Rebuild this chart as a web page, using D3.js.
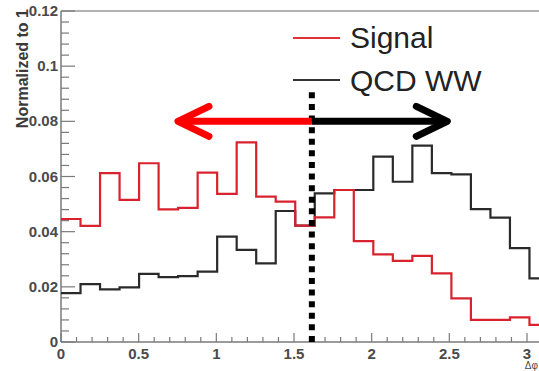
<!DOCTYPE html>
<html><head><meta charset="utf-8">
<script src="https://cdn.jsdelivr.net/npm/d3@7"></script>
<style>body{margin:0;background:#fff}svg{display:block}</style>
</head><body>
<svg id="c" width="539" height="371"></svg>
<script>
// ---- data ----
const xMax = 3.1416;           // histogram range 0..pi
const nBins = 25;
const signal = [0.0446,0.0421,0.0612,0.0515,0.0648,0.0481,0.0486,0.0614,0.0537,0.0724,0.0527,0.0509,0.0422,
                0.0452,0.0551,0.0366,0.0318,0.0294,0.0312,0.0249,0.0158,0.0080,0.0080,0.0089,0.0062];
const qcdWW  = [0.0177,0.0210,0.0191,0.0198,0.0247,0.0235,0.0239,0.0255,0.0382,0.0334,0.0285,0.0475,0.0422,
                0.0539,0.0551,0.0551,0.0672,0.0581,0.0712,0.0612,0.0608,0.0482,0.0451,0.0340,0.0231];
const seriesNames = ["Signal","QCD WW"];
const xTickLabels = [0,0.5,1,1.5,2,2.5,3];
const yTickLabels = [0,0.02,0.04,0.06,0.08,0.1,0.12];
const cutValue = 1.615, arrowLevel = 0.08, leftTip = 0.753, rightTip = 2.487, cutTop = 0.0905;

// ---- layout ----
const svg = d3.select("#c");
const x = d3.scaleLinear().domain([0, xMax]).range([61, 61 + xMax*155.33]);
const y = d3.scaleLinear().domain([0, 0.12]).range([342, 11]);
const axisCol = "#7a7a7a", labCol = "#4a4a4a";
const font = "Liberation Sans, Arial, sans-serif";

// frame top line
svg.append("line").attr("x1",61).attr("x2",539).attr("y1",11).attr("y2",11)
  .attr("stroke","#999").attr("stroke-width",1.5);

// y axis
const gy = svg.append("g").attr("transform","translate(61,0)");
const yMinor = d3.range(0, 0.1201, 0.004);
gy.selectAll("line.mn").data(yMinor).join("line")
  .attr("x1",0).attr("x2",d => (Math.abs(d/0.02 - Math.round(d/0.02))<1e-6) ? 14 : 8)
  .attr("y1",d=>y(d)).attr("y2",d=>y(d)).attr("stroke",axisCol).attr("stroke-width",1.2);
gy.append("line").attr("x1",0).attr("x2",0).attr("y1",y(0)).attr("y2",y(0.12)).attr("stroke",axisCol).attr("stroke-width",1.5);
gy.selectAll("text").data(yTickLabels).join("text")
  .attr("x",-3).attr("y",d=>y(d)+5).attr("text-anchor","end")
  .attr("font-family",font).attr("font-weight","bold").attr("font-size",15).attr("fill",labCol)
  .text(d=>d3.format("~g")(d));

// x axis
const gx = svg.append("g").attr("transform","translate(0,342)");
const xMinor = d3.range(0, xMax, 0.1);
gx.selectAll("line.mn").data(xMinor).join("line")
  .attr("x1",d=>x(d)).attr("x2",d=>x(d))
  .attr("y1",0).attr("y2",d => (Math.abs(d/0.5 - Math.round(d/0.5))<1e-6) ? -9 : -5)
  .attr("stroke",axisCol).attr("stroke-width",1.2);
gx.append("line").attr("x1",x(0)).attr("x2",539).attr("y1",0).attr("y2",0).attr("stroke",axisCol).attr("stroke-width",1.5);
gx.selectAll("text").data(xTickLabels).join("text")
  .attr("x",d=>x(d)).attr("y",17).attr("text-anchor","middle")
  .attr("font-family",font).attr("font-weight","bold").attr("font-size",15).attr("fill",labCol)
  .text(d=>d3.format("~g")(d));
svg.append("text").attr("x",538).attr("y",369).attr("text-anchor","end").attr("font-family",font).attr("font-size",10)
  .attr("fill",labCol).text("Δφ");

// y title
svg.append("text").attr("transform","translate(28,9) rotate(-90)").attr("text-anchor","end")
  .attr("font-family",font).attr("font-weight","bold").attr("font-size",16).attr("fill","#3a3a3a")
  .text("Normalized to 1");

// histograms
const edges = d3.range(nBins+1).map(i => i*xMax/nBins);
const line = d3.line().x(d=>x(d[0])).y(d=>y(d[1])).curve(d3.curveStepAfter);
function histPts(vals){ const p = vals.map((v,i)=>[edges[i],v]); p.push([edges[nBins], vals[nBins-1]]); return p; }
svg.append("path").attr("d", line(histPts(qcdWW))).attr("fill","none").attr("stroke","#2a2a2a").attr("stroke-width",2.2);
svg.append("path").attr("d", line(histPts(signal))).attr("fill","none").attr("stroke","#d8232e").attr("stroke-width",2.2);

// legend
const leg = [{n:seriesNames[0],c:"#e0303a",y:38,ty:48},{n:seriesNames[1],c:"#333",y:80,ty:91}];
leg.forEach(l=>{
  svg.append("line").attr("x1",293).attr("x2",340).attr("y1",l.y).attr("y2",l.y).attr("stroke",l.c).attr("stroke-width",2);
  svg.append("text").attr("x",350).attr("y",l.ty).attr("font-family",font).attr("font-size",30).attr("fill","#222").text(l.n);
});

// cut line
svg.append("line").attr("x1",x(cutValue)).attr("x2",x(cutValue)).attr("y1",y(cutTop)).attr("y2",y(-0.0018))
  .attr("stroke","#000").attr("stroke-width",6).attr("stroke-dasharray","6,5.6");

// arrows
function arrow(from, to, col){
  const ay = y(arrowLevel), dir = Math.sign(x(to)-x(from));
  const g = svg.append("g").attr("stroke",col).attr("stroke-width",7).attr("stroke-linecap","round").attr("fill","none");
  g.append("line").attr("x1",x(from)).attr("x2",x(to)-dir*3).attr("y1",ay).attr("y2",ay).attr("stroke-linecap","butt");
  g.append("path").attr("stroke-linejoin","round")
    .attr("d",`M${x(to)-dir*31},${ay-15}L${x(to)},${ay}L${x(to)-dir*31},${ay+15}`);
}
arrow(cutValue, leftTip, "#ff0000");
arrow(cutValue, rightTip, "#000");
</script>
</body></html>
